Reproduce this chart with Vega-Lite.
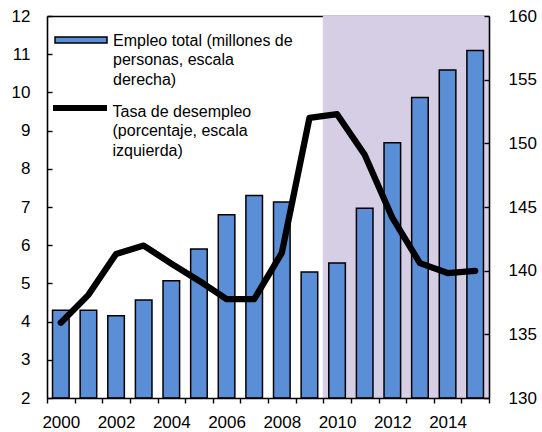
{
  "$schema": "https://vega.github.io/schema/vega-lite/v6.json",
  "width": 442,
  "height": 382,
  "autosize": "none",
  "padding": {"left": 47, "top": 16, "right": 53, "bottom": 34},
  "background": "white",
  "config": {
    "view": {"stroke": null},
    "font": "Liberation Sans",
    "axis": {"labelFont": "Liberation Sans", "labelFontSize": 17, "labelColor": "black", "domainColor": "black", "tickColor": "black", "domainWidth": 1.6, "tickWidth": 1.4, "grid": false, "title": null}
  },
  "data": {"values": [
    {"year": 2000, "empleo": 136.9, "tasa": 3.97},
    {"year": 2001, "empleo": 136.9, "tasa": 4.7},
    {"year": 2002, "empleo": 136.45, "tasa": 5.77},
    {"year": 2003, "empleo": 137.7, "tasa": 5.99},
    {"year": 2004, "empleo": 139.2, "tasa": 5.52},
    {"year": 2005, "empleo": 141.7, "tasa": 5.07},
    {"year": 2006, "empleo": 144.4, "tasa": 4.59},
    {"year": 2007, "empleo": 145.9, "tasa": 4.59},
    {"year": 2008, "empleo": 145.4, "tasa": 5.8},
    {"year": 2009, "empleo": 139.9, "tasa": 9.33},
    {"year": 2010, "empleo": 140.6, "tasa": 9.43},
    {"year": 2011, "empleo": 144.9, "tasa": 8.37},
    {"year": 2012, "empleo": 150.05, "tasa": 6.72},
    {"year": 2013, "empleo": 153.6, "tasa": 5.53},
    {"year": 2014, "empleo": 155.75, "tasa": 5.27},
    {"year": 2015, "empleo": 157.3, "tasa": 5.33}
  ]},
  "resolve": {"scale": {"y": "independent"}, "axis": {"x": "independent", "y": "independent"}},
  "layer": [
    {
      "transform": [{"filter": "datum.year >= 2010"}],
      "mark": {"type": "bar", "color": "#D6CEE4", "stroke": "#D6CEE4", "strokeWidth": 1, "width": {"band": 1}},
      "encoding": {
        "x": {"field": "year", "type": "ordinal", "scale": {"paddingInner": 0, "paddingOuter": 0}, "axis": {"orient": "top", "labels": false, "ticks": false, "domain": true, "zindex": 0}},
        "y": {"datum": 12, "scale": {"domain": [2, 12]}, "axis": null},
        "y2": {"datum": 2}
      }
    },
    {
      "mark": {"type": "bar", "stroke": "black", "strokeWidth": 1.5, "width": {"band": 0.6}},
      "encoding": {
        "x": {"field": "year", "type": "ordinal", "axis": {"orient": "bottom", "tickBand": "extent", "tickSize": 5, "labelPadding": 11, "labelBaseline": "top", "labelAngle": 0, "labelExpr": "datum.value % 2 == 0 ? datum.label : ''", "zindex": 1}},
        "y": {"field": "empleo", "type": "quantitative", "scale": {"domain": [130, 160], "nice": false, "zero": false}, "axis": {"orient": "right", "values": [130, 135, 140, 145, 150, 155, 160], "tickSize": -5, "labelPadding": 24, "zindex": 1}},
        "y2": {"datum": 130},
        "fill": {"datum": "Empleo total", "scale": {"range": ["#5A8ED6"]}, "legend": {
          "orient": "none", "legendX": 7, "legendY": -3, "padding": 0, "title": null,
          "symbolType": "M-1,-0.12H1V0.12H-1Z", "symbolSize": 2704, "symbolStrokeColor": "black", "symbolStrokeWidth": 1.5, "symbolFillColor": "#5A8ED6",
          "labelFont": "Liberation Sans", "labelFontSize": 16, "labelColor": "black", "labelOffset": 5, "labelLimit": 400, "labelBaseline": "alphabetic",
          "labelExpr": "['Empleo total (millones de', 'personas, escala', 'derecha)']",
          "encode": {"labels": {"update": {"lineHeight": {"value": 19.5}, "dy": {"value": 5.5}}}}
        }}
      }
    },
    {
      "mark": {"type": "line", "color": "black", "strokeWidth": 6.3, "strokeCap": "round", "strokeJoin": "round"},
      "encoding": {
        "x": {"field": "year", "type": "ordinal", "axis": null},
        "y": {"field": "tasa", "type": "quantitative", "scale": {"domain": [2, 12], "nice": false, "zero": false}, "axis": {"orient": "left", "values": [2, 3, 4, 5, 6, 7, 8, 9, 10, 11, 12], "tickSize": -5, "labelPadding": 22, "zindex": 1}},
        "stroke": {"datum": "Tasa de desempleo", "scale": {"range": ["black"]}, "legend": {
          "orient": "none", "legendX": 3, "legendY": 62, "padding": 0, "title": null,
          "symbolType": "stroke", "symbolSize": 2916, "symbolStrokeWidth": 6, "symbolStrokeColor": "black",
          "labelFont": "Liberation Sans", "labelFontSize": 16, "labelColor": "black", "labelOffset": 2.5, "labelLimit": 400, "labelBaseline": "alphabetic",
          "labelExpr": "['Tasa de desempleo', '(porcentaje, escala', 'izquierda)']",
          "encode": {"labels": {"update": {"lineHeight": {"value": 19.5}, "dy": {"value": 8.5}}}}
        }}
      }
    }
  ]
}
